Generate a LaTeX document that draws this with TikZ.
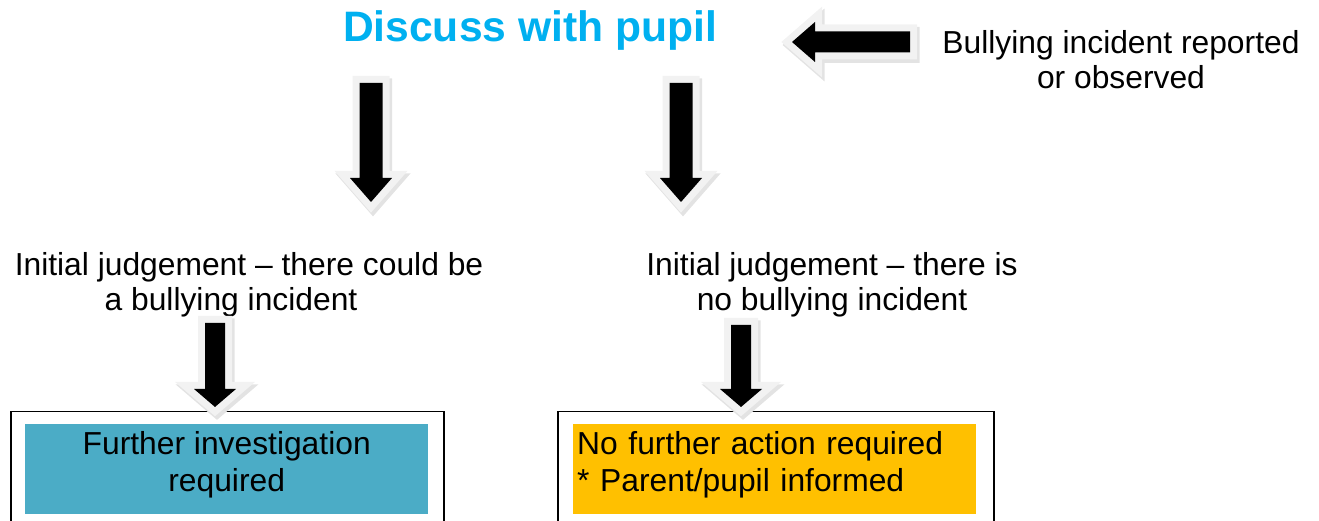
\documentclass[tikz,border=0pt]{standalone}
\usepackage{fontspec}
\setmainfont{Liberation Sans}
\usetikzlibrary{calc}
\definecolor{pupilblue}{HTML}{00B0F0}
\definecolor{furtherteal}{HTML}{4BACC6}
\definecolor{noactionorange}{HTML}{FFC000}
\tikzset{
    arrow body/.code={\def\arrowbody{#1}},     % half width of the shaft
    arrow body=10pt,
    arrow head/.code={\def\arrowhead{#1}},     % half width of the head
    arrow head=21pt,
    arrow tip length/.code={\def\arrowtiplength{#1}},
    arrow tip length=24pt,
    block arrow/.style 2 args={
        insert path={
            let \p0 = ($(#2)!\arrowtiplength!(#1)$) in   % base of the head
            ($(#1)!\arrowbody!90:(#2)$) -- ($(\p0)!\arrowbody!90:(#2)$)
            -- ($(\p0)!\arrowhead!90:(#2)$) -- (#2)
            -- ($(\p0)!\arrowhead!-90:(#2)$) -- ($(\p0)!\arrowbody!-90:(#2)$)
            -- ($(#1)!\arrowbody!-90:(#2)$) -- cycle
        }
    },
    fat arrow/.style={fill=black, line join=miter,
        preaction={draw=black!11, line width=15pt, line join=miter,
            transform canvas={shift={(2pt,-3pt)}}},
        preaction={draw=black!5, line width=14pt, line join=miter}},
    plain text/.style={font=\fontsize{31.8}{35}\selectfont, align=center, inner sep=0pt},
    outer frame/.style={draw=black, line width=1.5pt, minimum width=433pt, minimum height=200pt, anchor=north west, inner sep=0pt},
    inner panel/.style={minimum width=403pt, minimum height=90pt, anchor=north west, inner sep=0pt},
    panel text/.style={font=\fontsize{31.8}{37}\selectfont, yshift=4pt, inner sep=0pt}
}

\begin{document}
\begin{tikzpicture}[x=1pt, y=1pt]
    \useasboundingbox (0,0) rectangle (1319,521);
    \clip (0,0) rectangle (1319,521);

    \node[font=\fontsize{42.6}{48}\selectfont\bfseries, text=pupilblue, inner sep=0pt] (discuss) at (530,491) {Discuss with pupil};
    \node[plain text] (reported) at (1121,461) {Bullying incident reported\\or observed};
    \node[plain text] (could) at (249,236) {Initial judgement – there could be\\a bullying incident\hspace*{36pt}};
    \node[plain text] (isnot) at (832,236) {Initial judgement – there is\\no bullying incident};

    \node[outer frame] (leftframe) at (10,110) {};
    \node[outer frame, minimum width=436pt] (rightframe) at (557,110) {};
    \node[inner panel, fill=furtherteal,
        label={[panel text, align=center]center:{Further investigation\\required}}] (further) at (25,97) {};
    \node[inner panel, fill=noactionorange,
        label={[panel text, align=left, text width=395pt]center:{No further action required\\{*} Parent/pupil informed}}] (noaction) at (573,97) {};

    % arrow ends
    \coordinate (r1) at (910,479);
    \coordinate (r2) at (792,479);
    \coordinate (d1) at (371,438);
    \coordinate (d2) at (371,319);
    \coordinate (e1) at (681,438);
    \coordinate (e2) at (681,319);
    \coordinate (f1) at (215,198);
    \coordinate (f2) at (215,114);
    \coordinate (g1) at (741,196);
    \coordinate (g2) at (741,114);

    \path[fat arrow, arrow body=10.5pt, arrow head=20pt, arrow tip length=23pt, block arrow={r1}{r2}];
    \path[fat arrow, arrow body=11.5pt, block arrow={d1}{d2}];
    \path[fat arrow, arrow body=11.5pt, block arrow={e1}{e2}];
    \path[fat arrow, arrow tip length=18pt, block arrow={f1}{f2}];
    \path[fat arrow, arrow tip length=18pt, block arrow={g1}{g2}];

\end{tikzpicture}
\end{document}
